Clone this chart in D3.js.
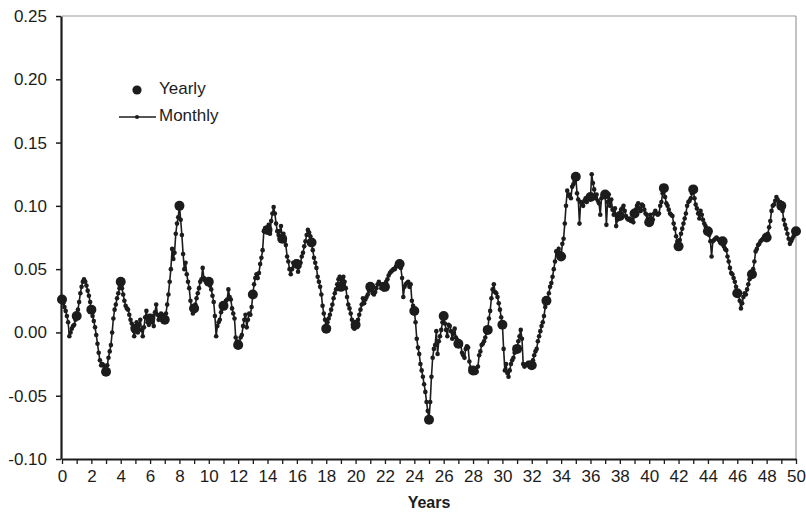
<!DOCTYPE html>
<html><head><meta charset="utf-8">
<script src="https://cdn.jsdelivr.net/npm/d3@7"></script>
<style>body{margin:0;background:#fff}svg{display:block}</style>
</head><body><svg id="c" width="806" height="515"></svg>
<script>
// Yearly observations (year 0..50)
const yearly = [0.026,0.013,0.018,-0.031,0.040,0.003,0.011,0.010,0.100,0.019,
  0.040,0.021,-0.010,0.030,0.081,0.074,0.054,0.071,0.003,0.036,
  0.006,0.036,0.036,0.054,0.017,-0.069,0.013,-0.009,-0.030,0.002,
  0.006,-0.013,-0.026,0.025,0.060,0.123,0.107,0.109,0.092,0.094,
  0.087,0.114,0.068,0.113,0.080,0.072,0.031,0.046,0.075,0.100,0.080];
// Monthly observations, one row of 12 per year, then the final month
const monthly = [
 0.026,0.023,0.020,0.017,0.013,0.008,-0.003,0.000,0.003,0.005,0.006,0.010,
 0.013,0.018,0.024,0.031,0.036,0.040,0.042,0.040,0.037,0.033,0.029,0.024,
 0.018,0.013,0.009,0.004,-0.002,-0.009,-0.016,-0.022,-0.026,-0.025,-0.026,-0.028,
 -0.031,-0.026,-0.020,-0.015,-0.010,0.000,0.011,0.018,0.022,0.027,0.031,0.035,
 0.040,0.035,0.030,0.025,0.021,0.019,0.018,0.014,0.010,0.007,0.004,-0.003,
 0.003,0.008,0.000,0.006,0.010,0.002,-0.003,0.004,0.012,0.017,0.008,0.006,
 0.011,0.008,0.013,0.005,0.016,0.022,0.014,0.010,0.013,0.015,0.014,0.012,
 0.010,0.015,0.022,0.030,0.040,0.050,0.066,0.058,0.063,0.078,0.086,0.091,
 0.100,0.089,0.077,0.062,0.050,0.055,0.046,0.040,0.035,0.025,0.019,0.015,
 0.019,0.022,0.027,0.031,0.035,0.040,0.042,0.051,0.043,0.041,0.040,0.040,
 0.040,0.037,0.034,0.029,0.024,0.013,-0.003,0.005,0.008,0.010,0.016,0.019,
 0.021,0.023,0.025,0.026,0.034,0.028,0.026,0.019,0.015,0.011,-0.004,-0.007,
 -0.010,-0.008,-0.004,-0.002,0.005,0.010,0.014,0.004,0.010,0.015,0.014,0.020,
 0.030,0.038,0.043,0.046,0.043,0.047,0.054,0.059,0.065,0.080,0.082,0.080,
 0.081,0.085,0.078,0.088,0.094,0.099,0.094,0.086,0.080,0.077,0.080,0.084,
 0.074,0.078,0.072,0.069,0.060,0.056,0.050,0.046,0.050,0.055,0.053,0.056,
 0.054,0.048,0.052,0.055,0.060,0.063,0.068,0.072,0.077,0.081,0.079,0.076,
 0.071,0.065,0.059,0.055,0.051,0.044,0.040,0.036,0.030,0.021,0.015,0.010,
 0.003,0.008,0.011,0.014,0.018,0.022,0.027,0.031,0.034,0.038,0.042,0.044,
 0.036,0.042,0.044,0.040,0.035,0.028,0.022,0.019,0.015,0.010,0.004,0.003,
 0.006,0.005,0.010,0.014,0.018,0.022,0.027,0.023,0.026,0.028,0.030,0.033,
 0.036,0.034,0.031,0.030,0.032,0.035,0.038,0.040,0.038,0.035,0.038,0.034,
 0.036,0.040,0.042,0.045,0.047,0.048,0.049,0.050,0.050,0.052,0.053,0.055,
 0.054,0.051,0.043,0.028,0.036,0.038,0.039,0.040,0.036,0.038,0.025,0.021,
 0.017,0.008,-0.005,-0.012,-0.017,-0.025,-0.030,-0.035,-0.041,-0.047,-0.055,-0.062,
 -0.069,-0.055,-0.035,-0.020,-0.013,-0.010,0.001,-0.017,-0.007,-0.003,0.002,0.008,
 0.013,0.007,0.002,-0.003,0.006,0.005,0.001,-0.005,-0.001,0.003,-0.004,-0.006,
 -0.009,-0.008,-0.010,-0.016,-0.018,-0.020,-0.013,-0.011,-0.012,-0.023,-0.028,-0.029,
 -0.030,-0.032,-0.032,-0.031,-0.027,-0.018,-0.015,-0.010,-0.009,-0.007,-0.004,0.000,
 0.002,0.011,0.017,0.027,0.034,0.038,0.032,0.031,0.028,0.023,0.018,0.012,
 0.006,-0.013,-0.030,-0.025,-0.032,-0.035,-0.030,-0.025,-0.022,-0.020,-0.016,-0.014,
 -0.013,-0.007,-0.003,0.002,-0.005,-0.025,-0.027,-0.026,-0.025,-0.024,-0.024,-0.025,
 -0.026,-0.022,-0.018,-0.015,-0.013,-0.007,-0.003,0.001,0.005,0.008,0.013,0.020,
 0.025,0.027,0.031,0.036,0.039,0.044,0.050,0.056,0.064,0.062,0.066,0.063,
 0.060,0.070,0.074,0.086,0.100,0.112,0.108,0.109,0.106,0.115,0.117,0.119,
 0.123,0.110,0.105,0.086,0.103,0.102,0.100,0.104,0.106,0.103,0.106,0.107,
 0.107,0.125,0.118,0.113,0.106,0.109,0.104,0.102,0.093,0.106,0.108,0.110,
 0.109,0.085,0.103,0.109,0.100,0.105,0.097,0.093,0.098,0.084,0.089,0.093,
 0.092,0.097,0.098,0.100,0.096,0.092,0.090,0.089,0.090,0.088,0.089,0.087,
 0.094,0.097,0.100,0.102,0.098,0.096,0.101,0.100,0.097,0.094,0.093,0.090,
 0.087,0.093,0.090,0.089,0.094,0.096,0.094,0.093,0.094,0.100,0.103,0.110,
 0.114,0.107,0.102,0.100,0.097,0.094,0.093,0.092,0.086,0.082,0.076,0.072,
 0.068,0.073,0.078,0.082,0.086,0.090,0.094,0.100,0.103,0.104,0.106,0.110,
 0.113,0.106,0.101,0.098,0.094,0.090,0.096,0.093,0.089,0.086,0.084,0.082,
 0.080,0.077,0.072,0.060,0.072,0.073,0.074,0.075,0.074,0.073,0.072,0.073,
 0.072,0.068,0.066,0.065,0.060,0.056,0.051,0.047,0.046,0.043,0.040,0.036,
 0.031,0.030,0.025,0.019,0.023,0.028,0.031,0.030,0.034,0.038,0.042,0.044,
 0.046,0.050,0.056,0.064,0.066,0.069,0.070,0.072,0.073,0.074,0.075,0.076,
 0.075,0.078,0.083,0.088,0.096,0.100,0.101,0.104,0.107,0.105,0.102,0.103,
 0.100,0.096,0.089,0.085,0.082,0.078,0.074,0.070,0.072,0.074,0.076,0.078,
 0.080];
const yTicks = [-0.10,-0.05,0.00,0.05,0.10,0.15,0.20,0.25];
const xMinorTicks = d3.range(0, 51, 1);
const xLabelTicks = d3.range(0, 51, 2);
const legendLabels = ["Yearly","Monthly"];
const xTitle = "Years";

(function(){
const svg = d3.select("#c");
const pL = 62, pR = 796, pT = 16, pB = 459;
const x = d3.scaleLinear().domain([0,50]).range([pL,pR]);
const y = d3.scaleLinear().domain([-0.10,0.25]).range([pB,pT]);
const ink = "#1c1c1c";
const font = "'Liberation Sans', Arial, Helvetica, sans-serif";
const fmt = d => d3.format(".2f")(d).replace("\u2212","-");

svg.append("line").attr("x1",pL).attr("x2",pR).attr("y1",pT).attr("y2",pT)
  .attr("stroke","#9a9a9a").attr("stroke-width",1.2);
svg.append("line").attr("x1",pR).attr("x2",pR).attr("y1",pT).attr("y2",pB)
  .attr("stroke","#9a9a9a").attr("stroke-width",1.2);

const ya = svg.append("g").attr("transform",`translate(${pL-1},0)`)
  .call(d3.axisLeft(y).tickValues(yTicks).tickFormat(fmt).tickSize(5).tickPadding(9).tickSizeOuter(0));
ya.select(".domain").attr("stroke",ink).attr("stroke-width",2.2);
ya.selectAll(".tick line").attr("stroke",ink).attr("stroke-width",1.5);
ya.selectAll("text").attr("fill",ink).style("font-family",font).style("font-size","17px");

const xa = svg.append("g").attr("transform",`translate(0,${pB})`)
  .call(d3.axisBottom(x).tickValues(xMinorTicks).tickFormat(d => xLabelTicks.includes(d) ? d : "").tickSize(5).tickPadding(6).tickSizeOuter(0));
xa.select(".domain").attr("stroke",ink).attr("stroke-width",2.2);
xa.selectAll(".tick line").attr("stroke",ink).attr("stroke-width",1.3);
xa.selectAll("text").attr("fill",ink).style("font-family",font).style("font-size","17px");

svg.append("text").attr("x",(pL+pR)/2).attr("y",504).attr("text-anchor","middle")
  .attr("dominant-baseline","middle").attr("fill",ink)
  .style("font-family",font).style("font-size","16px").style("font-weight","bold").text(xTitle);

const mData = monthly.map((v,i)=>({t:i/12,v}));
svg.append("path").datum(mData)
  .attr("d",d3.line().x(d=>x(d.t)).y(d=>y(d.v)))
  .attr("fill","none").attr("stroke",ink).attr("stroke-width",1.6);
svg.append("g").selectAll("circle").data(mData).join("circle")
  .attr("cx",d=>x(d.t)).attr("cy",d=>y(d.v)).attr("r",2.3).attr("fill",ink);

svg.append("g").selectAll("circle").data(yearly).join("circle")
  .attr("cx",(d,i)=>x(i)).attr("cy",d=>y(d)).attr("r",5).attr("fill",ink);

const lg = svg.append("g");
lg.append("circle").attr("cx",137).attr("cy",90).attr("r",4.6).attr("fill",ink);
lg.append("text").attr("x",159).attr("y",90).attr("dominant-baseline","middle").attr("fill",ink)
  .style("font-family",font).style("font-size","17px").text(legendLabels[0]);
lg.append("line").attr("x1",119).attr("x2",156).attr("y1",117).attr("y2",117).attr("stroke",ink).attr("stroke-width",1.5);
lg.append("circle").attr("cx",137).attr("cy",117).attr("r",2.1).attr("fill",ink);
lg.append("text").attr("x",159).attr("y",117).attr("dominant-baseline","middle").attr("fill",ink)
  .style("font-family",font).style("font-size","17px").text(legendLabels[1]);
})();
</script></body></html>
